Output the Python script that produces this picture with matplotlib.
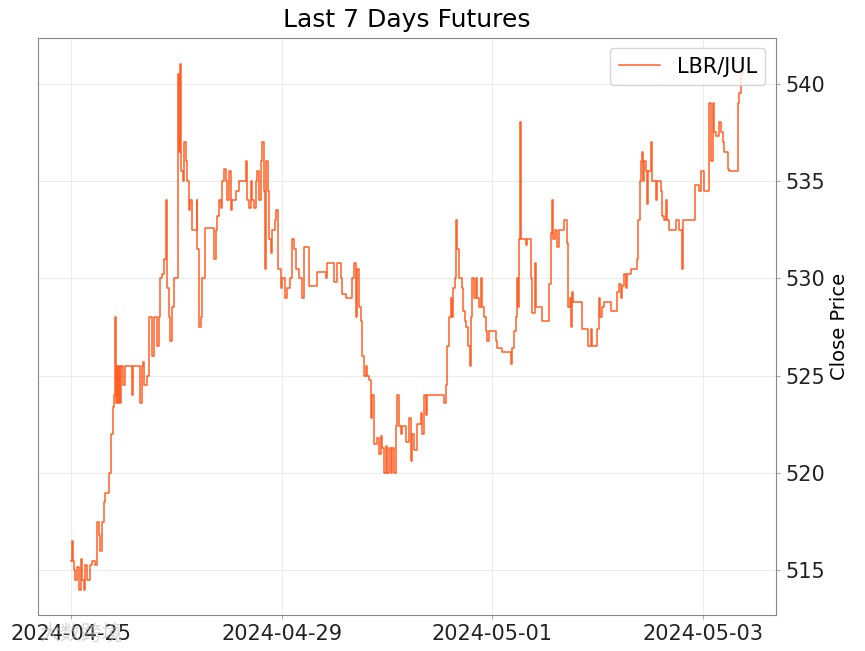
import matplotlib
matplotlib.use("Agg")
import matplotlib.pyplot as plt
import numpy as np

# bar index (one trading day ~ 315.6 bars) and close price
bars = [0, 2, 5, 8, 12, 17, 22, 29, 33, 37, 42, 47, 55, 62, 72, 77, 82, 87, 92, 97,
        102, 112, 119, 125, 127, 130, 133, 136, 139, 142, 146, 150, 155, 160, 170, 182, 186, 200, 207, 212,
        215, 219, 227, 232, 242, 247, 257, 262, 267, 272, 277, 285, 287, 292, 297, 302, 307, 317, 319, 322,
        327, 330, 335, 339, 343, 347, 352, 357, 362, 375, 377, 382, 387, 392, 399, 427, 432, 437, 442, 447,
        452, 457, 462, 467, 472, 477, 482, 492, 502, 522, 527, 532, 537, 542, 547, 552, 557, 562, 567, 572,
        577, 580, 584, 589, 592, 597, 602, 610, 614, 620, 627, 632, 640, 647, 654, 662, 667, 674, 682, 692,
        697, 712, 737, 762, 767, 787, 797, 807, 812, 822, 842, 847, 852, 857, 862, 867, 872, 877, 882, 887,
        892, 897, 902, 907, 917, 922, 927, 932, 937, 942, 947, 952, 957, 962, 967, 972, 977, 982, 987, 992,
        1002, 1012, 1017, 1022, 1027, 1037, 1047, 1052, 1057, 1062, 1067, 1117, 1122, 1127, 1132, 1137, 1142, 1144, 1150, 1154,
        1157, 1162, 1170, 1174, 1180, 1184, 1190, 1194, 1198, 1202, 1207, 1212, 1217, 1222, 1227, 1230, 1237, 1242, 1247, 1252,
        1272, 1277, 1292, 1317, 1322, 1327, 1332, 1335, 1339, 1342, 1345, 1348, 1362, 1367, 1377, 1380, 1390, 1394, 1412, 1432,
        1437, 1440, 1444, 1450, 1455, 1462, 1477, 1482, 1487, 1490, 1494, 1497, 1500, 1504, 1530, 1550, 1557, 1562, 1577, 1582,
        1585, 1590, 1597, 1617, 1637, 1642, 1647, 1652, 1657, 1662, 1667, 1677, 1695, 1700, 1704, 1708, 1712, 1714, 1717, 1722,
        1725, 1728, 1737, 1742, 1752, 1757, 1767, 1772, 1777, 1782, 1787, 1792, 1812, 1822, 1830, 1834, 1870, 1880, 1887, 1895,
        1910, 1912, 1917, 1922, 1927, 1932, 1942, 1947, 1952, 1957, 1967, 1972, 1997, 2002, 2007, 2012]
close = [515.5, 516.5, 515.5, 515.0, 514.5, 515.2, 514.0, 515.6, 514.5, 514.0, 515.3, 514.5, 515.3, 515.5, 515.3, 517.5, 516.8, 516.0, 517.5, 518.5,
         519.0, 520.0, 522.0, 523.4, 524.0, 528.0, 523.6, 525.5, 523.6, 525.5, 523.6, 525.5, 524.5, 525.5, 525.5, 524.0, 525.5, 525.5, 523.6, 525.5,
         525.7, 524.5, 525.0, 528.0, 526.0, 528.0, 526.5, 528.0, 530.0, 530.2, 531.0, 534.0, 529.5, 528.0, 526.8, 528.5, 530.0, 530.0, 540.5, 536.5,
         541.0, 535.5, 535.0, 537.0, 536.0, 535.0, 533.5, 534.0, 532.5, 534.0, 531.5, 527.5, 528.0, 530.0, 532.6, 531.0, 532.5, 533.2, 534.0, 533.6,
         535.0, 535.6, 535.0, 534.0, 535.5, 533.5, 534.0, 534.5, 535.0, 536.0, 534.0, 533.6, 535.0, 534.0, 533.6, 535.0, 535.5, 534.0, 536.0, 537.0,
         534.5, 530.5, 536.0, 534.5, 532.0, 531.3, 532.5, 533.0, 533.5, 530.5, 529.5, 530.0, 529.0, 529.5, 530.0, 532.0, 531.5, 530.5, 530.0, 529.0,
         531.6, 529.6, 530.3, 530.0, 530.8, 529.8, 530.8, 530.0, 529.2, 529.0, 530.0, 530.8, 528.0, 530.5, 528.5, 527.8, 526.0, 525.0, 525.5, 525.0,
         524.8, 522.8, 524.0, 521.5, 521.8, 521.0, 521.9, 521.3, 520.0, 521.4, 520.0, 521.3, 520.0, 521.3, 520.0, 522.4, 524.0, 522.4, 522.0, 522.4,
         521.6, 522.8, 520.6, 522.0, 521.2, 522.5, 523.1, 522.0, 524.0, 523.0, 524.0, 523.6, 524.5, 526.5, 528.0, 529.0, 528.0, 529.5, 530.0, 533.0,
         531.5, 530.0, 529.5, 528.3, 527.8, 527.5, 526.5, 525.5, 528.0, 530.0, 529.0, 530.0, 529.0, 528.5, 530.0, 528.5, 528.0, 527.3, 526.8, 527.3,
         526.8, 526.4, 526.2, 525.6, 526.4, 527.3, 528.0, 530.0, 528.5, 532.0, 538.0, 532.0, 531.7, 532.0, 530.0, 528.2, 530.8, 528.5, 527.8, 529.7,
         532.3, 534.0, 532.0, 532.5, 531.6, 532.5, 533.0, 533.0, 531.8, 528.5, 529.0, 527.5, 529.3, 528.8, 527.4, 526.5, 527.4, 526.5, 527.4, 529.0,
         528.0, 528.5, 528.8, 528.3, 529.3, 529.7, 529.0, 529.6, 530.2, 529.5, 530.2, 530.5, 531.0, 533.0, 535.0, 536.0, 536.5, 535.0, 536.0, 535.5,
         533.8, 535.5, 537.0, 535.0, 534.0, 535.0, 534.5, 533.2, 533.0, 534.0, 533.0, 532.5, 533.0, 532.5, 530.5, 533.0, 534.8, 534.5, 535.5, 534.5,
         536.4, 539.0, 536.0, 539.0, 537.5, 537.3, 538.0, 537.5, 537.0, 536.5, 535.6, 535.5, 539.0, 539.5, 540.5, 541.0]

tick_bars = [0, 631, 1262, 1894]
tick_labels = ["2024-04-25", "2024-04-29", "2024-05-01", "2024-05-03"]

fig = plt.figure(figsize=(8.65, 6.51), dpi=100)
ax = fig.add_axes([0.044, 0.055, 0.853, 0.887])

ax.plot(bars, close, drawstyle="steps-post", color="#FF4500", linewidth=1.1,
        alpha=0.85, label="LBR/JUL")

ax.set_xlim(-100, 2112)
ax.set_ylim(512.7, 542.35)
ax.set_xticks(tick_bars)
ax.set_xticklabels(tick_labels)
ax.set_yticks([515, 520, 525, 530, 535, 540])

ax.yaxis.tick_right()
ax.yaxis.set_label_position("right")
ax.set_ylabel("Close Price", fontsize=14)
ax.set_title("Last 7 Days Futures", fontsize=18, pad=8)
ax.tick_params(labelsize=15, colors="#222222", length=3)
ax.tick_params(color="#aaaaaa")
ax.grid(True, color="#ececec", linewidth=0.8)
for s in ax.spines.values():
    s.set_color("#888888")

ax.legend(loc="upper right", fontsize=15, framealpha=0.8)

# faint watermark at bottom left
fig.text(0.045, 0.016, "大数跨境", fontsize=15, color="#bbbbbb", alpha=0.6,
         family=["Noto Sans CJK SC", "DejaVu Sans"])

fig.savefig("out.png", dpi=100)
